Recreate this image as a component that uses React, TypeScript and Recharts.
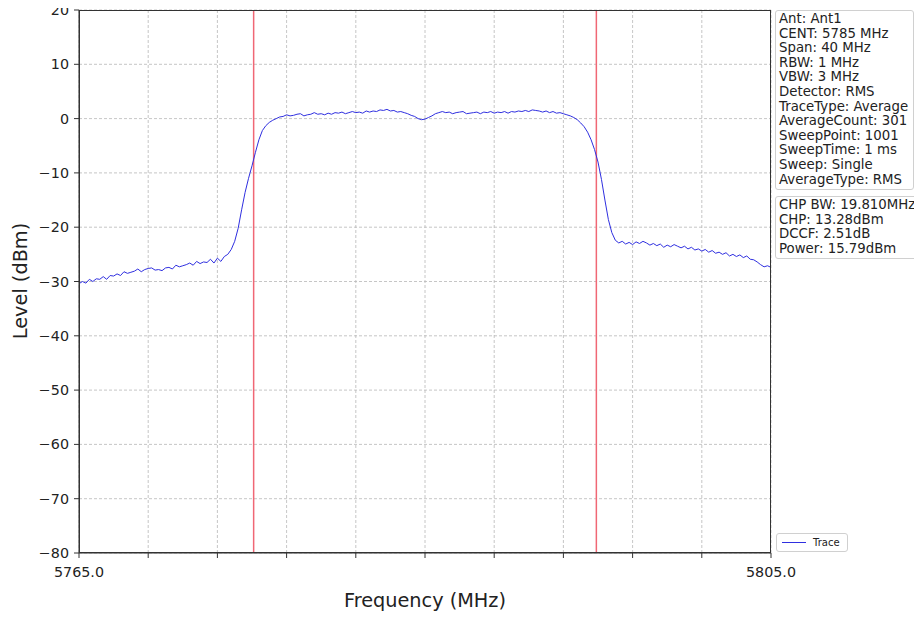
import React from 'react';
import { LineChart, Line, XAxis, YAxis, CartesianGrid, ReferenceLine } from 'recharts';

const freqs = [
  5765.0, 5765.2, 5765.4, 5765.6, 5765.8, 5766.0, 5766.2, 5766.4, 5766.6, 5766.8,
  5767.0, 5767.2, 5767.4, 5767.6, 5767.8, 5768.0, 5768.2, 5768.4, 5768.6, 5768.8,
  5769.0, 5769.2, 5769.4, 5769.6, 5769.8, 5770.0, 5770.2, 5770.4, 5770.6, 5770.8,
  5771.0, 5771.2, 5771.4, 5771.6, 5771.8, 5772.0, 5772.2, 5772.4, 5772.6, 5772.8,
  5773.0, 5773.2, 5773.4, 5773.6, 5773.8, 5774.0, 5774.2, 5774.4, 5774.6, 5774.8,
  5775.0, 5775.2, 5775.4, 5775.6, 5775.8, 5776.0, 5776.2, 5776.4, 5776.6, 5776.8,
  5777.0, 5777.2, 5777.4, 5777.6, 5777.8, 5778.0, 5778.2, 5778.4, 5778.6, 5778.8,
  5779.0, 5779.2, 5779.4, 5779.6, 5779.8, 5780.0, 5780.2, 5780.4, 5780.6, 5780.8,
  5781.0, 5781.2, 5781.4, 5781.6, 5781.8, 5782.0, 5782.2, 5782.4, 5782.6, 5782.8,
  5783.0, 5783.2, 5783.4, 5783.6, 5783.8, 5784.0, 5784.2, 5784.4, 5784.6, 5784.8,
  5785.0, 5785.2, 5785.4, 5785.6, 5785.8, 5786.0, 5786.2, 5786.4, 5786.6, 5786.8,
  5787.0, 5787.2, 5787.4, 5787.6, 5787.8, 5788.0, 5788.2, 5788.4, 5788.6, 5788.8,
  5789.0, 5789.2, 5789.4, 5789.6, 5789.8, 5790.0, 5790.2, 5790.4, 5790.6, 5790.8,
  5791.0, 5791.2, 5791.4, 5791.6, 5791.8, 5792.0, 5792.2, 5792.4, 5792.6, 5792.8,
  5793.0, 5793.2, 5793.4, 5793.6, 5793.8, 5794.0, 5794.2, 5794.4, 5794.6, 5794.8,
  5795.0, 5795.2, 5795.4, 5795.6, 5795.8, 5796.0, 5796.2, 5796.4, 5796.6, 5796.8,
  5797.0, 5797.2, 5797.4, 5797.6, 5797.8, 5798.0, 5798.2, 5798.4, 5798.6, 5798.8,
  5799.0, 5799.2, 5799.4, 5799.6, 5799.8, 5800.0, 5800.2, 5800.4, 5800.6, 5800.8,
  5801.0, 5801.2, 5801.4, 5801.6, 5801.8, 5802.0, 5802.2, 5802.4, 5802.6, 5802.8,
  5803.0, 5803.2, 5803.4, 5803.6, 5803.8, 5804.0, 5804.2, 5804.4, 5804.6, 5804.8,
  5805.0,
];

const levels = [
  -30.4, -30.0, -30.3, -29.6, -30.0, -29.5, -29.6, -29.1, -29.6, -28.9,
  -29.0, -28.6, -28.9, -28.2, -28.5, -28.3, -28.1, -27.7, -28.2, -27.8,
  -27.6, -27.5, -27.9, -27.8, -28.0, -27.5, -27.4, -27.7, -27.0, -27.3,
  -27.1, -26.9, -26.6, -27.0, -26.3, -26.7, -26.4, -26.5, -25.9, -26.6,
  -25.7, -26.3, -25.4, -25.0, -24.1, -22.6, -20.2, -16.8, -13.6, -11.0,
  -8.7, -6.2, -3.9, -2.2, -1.3, -0.7, -0.3, 0.0, 0.3, 0.4,
  0.7, 0.5, 0.6, 0.8, 0.9, 0.5, 0.7, 0.8, 1.1, 0.8,
  0.9, 0.7, 1.0, 0.8, 1.1, 1.0, 1.2, 0.9, 1.1, 1.3,
  1.1, 1.2, 1.0, 1.4, 1.2, 1.4, 1.3, 1.6, 1.5, 1.7,
  1.4, 1.5, 1.2, 1.3, 1.1, 0.9, 0.6, 0.4, 0.0, -0.2,
  -0.1, 0.2, 0.5, 0.9, 1.1, 1.3, 1.1, 1.2, 0.9, 1.1,
  1.2, 1.3, 0.9, 1.0, 1.1, 1.2, 0.9, 1.2, 1.1, 1.3,
  1.0, 1.2, 1.1, 1.3, 1.0, 1.3, 1.2, 1.4, 1.3, 1.5,
  1.3, 1.6, 1.5, 1.4, 1.2, 1.4, 1.1, 1.3, 1.0, 1.1,
  0.9, 0.7, 0.5, 0.2, -0.2, -0.8, -1.5, -2.5, -3.9, -5.7,
  -8.0, -11.2, -15.0, -18.6, -21.0, -22.4, -22.9, -22.6, -23.1, -22.8,
  -23.2, -22.7, -23.0, -22.6, -22.9, -23.3, -23.0, -23.4, -23.1, -23.7,
  -23.3, -23.6, -23.2, -23.5, -23.8, -23.5, -24.0, -23.7, -24.2, -24.0,
  -24.4, -24.1, -24.6, -24.3, -24.8, -24.6, -25.0, -24.7, -25.3, -25.0,
  -25.4, -25.1, -25.6, -25.3, -25.9, -26.0, -26.4, -26.9, -27.3, -27.1,
  -27.4,
];

const xTicks = [5765, 5769, 5773, 5777, 5781, 5785, 5789, 5793, 5797, 5801, 5805];
const xTickLabels = ['5765.0', '', '', '', '', '', '', '', '', '', '5805.0'];
const yTicks = [-80, -70, -60, -50, -40, -30, -20, -10, 0, 10, 20];
const channelEdges = [5775.095, 5794.905];

const infoLines = [
  'Ant: Ant1',
  'CENT: 5785 MHz',
  'Span: 40 MHz',
  'RBW: 1 MHz',
  'VBW: 3 MHz',
  'Detector: RMS',
  'TraceType: Average',
  'AverageCount: 301',
  'SweepPoint: 1001',
  'SweepTime: 1 ms',
  'Sweep: Single',
  'AverageType: RMS',
];
const powerLines = ['CHP BW: 19.810MHz', 'CHP: 13.28dBm', 'DCCF: 2.51dB', 'Power: 15.79dBm'];
const seriesName = 'Trace';

const data = freqs.map((f, i) => ({ f, level: levels[i] }));

const FONT = '"DejaVu Sans", sans-serif';

const fmtY = (v: number) => (v < 0 ? '\u2212' + Math.abs(v) : String(v));
const fmtX = (v: number) => {
  const i = xTicks.indexOf(v);
  return i >= 0 ? xTickLabels[i] : '';
};

const boxStyle: React.CSSProperties = {
  position: 'absolute',
  border: '1px solid #d0d0d0',
  borderRadius: 3,
  background: 'rgba(255,255,255,0.9)',
  fontFamily: FONT,
  fontSize: 13.3,
  lineHeight: '14.6px',
  color: '#222',
  whiteSpace: 'nowrap',
  boxSizing: 'border-box',
};

export default function App() {
  return (
    <div style={{ position: 'relative', width: 922, height: 618, margin: '-8px 0 0 -8px', fontFamily: FONT }}>
      <LineChart
        width={922}
        height={618}
        data={data}
        margin={{ top: 10, right: 151, bottom: 0, left: 0 }}
      >
        <CartesianGrid stroke="#b8b8b8" strokeDasharray="3 2" strokeWidth={0.8} />
        <XAxis
          dataKey="f"
          type="number"
          domain={[5765, 5805]}
          ticks={xTicks}
          tickFormatter={fmtX}
          interval={0}
          height={65}
          tickSize={5}
          tickMargin={9}
          stroke="#333"
          tick={{ fontSize: 14.3, fill: '#222', fontFamily: FONT }}
          allowDataOverflow
          label={{
            content: () => (
              <text x={425} y={607} textAnchor="middle" fontSize={19.3} fill="#222" fontFamily={FONT}>
                Frequency (MHz)
              </text>
            ),
          }}
        />
        <YAxis
          type="number"
          domain={[-80, 20]}
          ticks={yTicks}
          tickFormatter={fmtY}
          interval={0}
          width={79}
          tickSize={5}
          tickMargin={5}
          stroke="#333"
          tick={{ fontSize: 14.3, fill: '#222', fontFamily: FONT }}
          allowDataOverflow
          label={{
            content: () => (
              <text
                x={27}
                y={281}
                textAnchor="middle"
                fontSize={19.3}
                fill="#222"
                fontFamily={FONT}
                transform="rotate(-90, 27, 281)"
              >
                Level (dBm)
              </text>
            ),
          }}
        />
        {channelEdges.map((x) => (
          <ReferenceLine key={x} x={x} stroke="#f06775" strokeWidth={1.5} ifOverflow="visible" />
        ))}
        <Line
          type="linear"
          dataKey="level"
          name={seriesName}
          stroke="#2f2fe0"
          strokeWidth={1}
          dot={false}
          isAnimationActive={false}
        />
      </LineChart>
      <div
        style={{
          position: 'absolute',
          left: 79,
          top: 10,
          width: 692,
          height: 543,
          border: '1.2px solid #333',
          boxSizing: 'border-box',
          pointerEvents: 'none',
        }}
      />
      <div style={{ ...boxStyle, left: 775, top: 10, width: 139, height: 180, padding: '1px 0 0 3px' }}>
        {infoLines.map((t) => (
          <div key={t}>{t}</div>
        ))}
      </div>
      <div style={{ ...boxStyle, left: 775, top: 196, width: 147, height: 63, padding: '1px 0 0 3px' }}>
        {powerLines.map((t) => (
          <div key={t}>{t}</div>
        ))}
      </div>
      <div
        style={{
          ...boxStyle,
          left: 776,
          top: 533,
          width: 72,
          height: 19,
          fontSize: 10,
          lineHeight: '17px',
          display: 'flex',
          alignItems: 'center',
        }}
      >
        <div style={{ width: 24, height: 0, borderTop: '1.5px solid #2f2fe0', marginLeft: 5, marginRight: 7 }} />
        <span>{seriesName}</span>
      </div>
    </div>
  );
}
